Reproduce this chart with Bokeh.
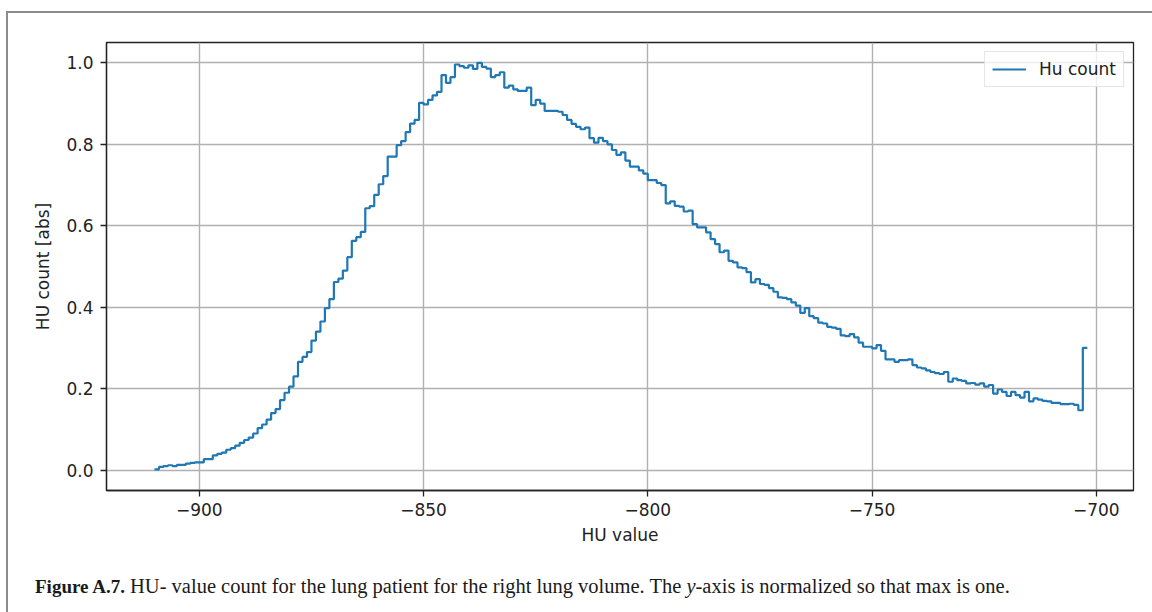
from bokeh.plotting import figure
from bokeh.models import Range1d, FixedTicker, Legend, LegendItem, Div
from bokeh.layouts import column
from bokeh.embed import file_html
from bokeh.resources import INLINE

# ---- data ----
hu_bin_start = -910      # left edge of first histogram bin (HU)
hu_bin_width = 1         # bin width (HU)
hu_counts = [
    0.002, 0.008, 0.010, 0.012, 0.010, 0.013, 0.013, 0.016, 0.018, 0.019,   # -910..-901
    0.019, 0.027, 0.027, 0.036, 0.040, 0.043, 0.050, 0.054, 0.060, 0.067,   # -900..-891
    0.074, 0.080, 0.090, 0.103, 0.112, 0.124, 0.140, 0.150, 0.172, 0.190,   # -890..-881
    0.205, 0.230, 0.266, 0.278, 0.290, 0.318, 0.340, 0.365, 0.398, 0.420,   # -880..-871
    0.462, 0.470, 0.490, 0.523, 0.563, 0.572, 0.585, 0.643, 0.648, 0.676,   # -870..-861
    0.702, 0.722, 0.770, 0.770, 0.798, 0.808, 0.830, 0.851, 0.860, 0.902,   # -860..-851
    0.898, 0.909, 0.920, 0.929, 0.970, 0.951, 0.965, 0.996, 0.992, 0.988,   # -850..-841
    0.994, 0.985, 1.000, 0.990, 0.986, 0.965, 0.970, 0.977, 0.939, 0.944,   # -840..-831
    0.935, 0.931, 0.931, 0.939, 0.896, 0.909, 0.900, 0.882, 0.882, 0.882,   # -830..-821
    0.880, 0.872, 0.860, 0.850, 0.843, 0.837, 0.841, 0.815, 0.804, 0.816,   # -820..-811
    0.808, 0.800, 0.786, 0.774, 0.780, 0.760, 0.745, 0.745, 0.736, 0.728,   # -810..-801
    0.712, 0.712, 0.705, 0.700, 0.655, 0.660, 0.649, 0.647, 0.635, 0.637,   # -800..-791
    0.604, 0.596, 0.596, 0.584, 0.567, 0.555, 0.535, 0.539, 0.514, 0.510,   # -790..-781
    0.498, 0.496, 0.486, 0.461, 0.469, 0.457, 0.455, 0.447, 0.438, 0.424,   # -780..-771
    0.423, 0.420, 0.412, 0.404, 0.386, 0.398, 0.378, 0.373, 0.362, 0.360,   # -770..-761
    0.352, 0.350, 0.347, 0.331, 0.329, 0.334, 0.326, 0.313, 0.303, 0.303,   # -760..-751
    0.299, 0.307, 0.293, 0.272, 0.272, 0.266, 0.270, 0.270, 0.272, 0.258,   # -750..-741
    0.252, 0.250, 0.245, 0.241, 0.238, 0.236, 0.241, 0.217, 0.225, 0.221,   # -740..-731
    0.219, 0.213, 0.214, 0.210, 0.213, 0.205, 0.209, 0.188, 0.198, 0.192,   # -730..-721
    0.182, 0.192, 0.184, 0.178, 0.192, 0.169, 0.176, 0.173, 0.170, 0.169,   # -720..-711
    0.165, 0.165, 0.162, 0.162, 0.163, 0.160, 0.147, 0.300,                 # -710..-703
]
series_label = "Hu count"
x_ticks = [-900, -850, -800, -750, -700]
x_tick_labels = ["\u2212900", "\u2212850", "\u2212800", "\u2212750", "\u2212700"]
y_ticks = [0.0, 0.2, 0.4, 0.6, 0.8, 1.0]
y_tick_labels = ["0.0", "0.2", "0.4", "0.6", "0.8", "1.0"]
x_title = "HU value"
y_title = "HU count [abs]"
caption_bold = "Figure A.7."
caption_part1 = "HU- value count for the lung patient for the right lung volume. The "
caption_italic = "y"
caption_part2 = "-axis is normalized so that max is one."

# step outline built from bin edges
edges = [hu_bin_start + i * hu_bin_width for i in range(len(hu_counts) + 1)]
step_y = hu_counts + [hu_counts[-1]]

# page geometry: frame rule at left/top, figure inside it, caption below
OFF_X, OFF_Y = 8, 13
FIG_W, FIG_H = 1152 - OFF_X, 545
p = figure(width=FIG_W, height=FIG_H, output_backend="svg", toolbar_location=None,
           x_range=Range1d(-920.7, -691.7), y_range=Range1d(-0.05, 1.05),
           min_border_left=106 - OFF_X, min_border_right=FIG_W - (1133 - OFF_X),
           min_border_top=42 - OFF_Y, min_border_bottom=FIG_H - (490 - OFF_Y))
p.background_fill_color = "white"
p.border_fill_color = "white"
p.outline_line_color = "#222222"
p.outline_line_width = 1.3

r = p.step(edges, step_y, mode="after", line_color="#1f77b4", line_width=2.2)

TICK_FONT = "DejaVu Sans"
for ax in (p.xaxis[0], p.yaxis[0]):
    ax.axis_line_color = "#222222"
    ax.axis_line_width = 1.3
    ax.major_tick_line_color = "#222222"
    ax.major_tick_line_width = 1.3
    ax.major_tick_out = 6
    ax.major_tick_in = 0
    ax.minor_tick_line_color = None
    ax.major_label_text_font = TICK_FONT
    ax.major_label_text_font_size = "17px"
    ax.major_label_text_color = "#222222"
    ax.axis_label_text_font = TICK_FONT
    ax.axis_label_text_font_size = "17px"
    ax.axis_label_text_font_style = "normal"
    ax.axis_label_text_color = "#222222"

p.xaxis.ticker = FixedTicker(ticks=x_ticks)
p.xaxis.major_label_overrides = dict(zip(x_ticks, x_tick_labels))
p.yaxis.ticker = FixedTicker(ticks=y_ticks)
p.yaxis.major_label_overrides = dict(zip(y_ticks, y_tick_labels))
p.xaxis.axis_label = x_title
p.yaxis.axis_label = y_title
p.xaxis.major_label_standoff = 6
p.yaxis.major_label_standoff = 7
p.xaxis.axis_label_standoff = 6
p.yaxis.axis_label_standoff = 10

p.xgrid.grid_line_color = "#b0b0b0"
p.ygrid.grid_line_color = "#b0b0b0"
p.xgrid.grid_line_width = 1.4
p.ygrid.grid_line_width = 1.4

legend = Legend(items=[LegendItem(label=series_label, renderers=[r])],
                location="top_right", margin=9, padding=7, glyph_width=34,
                glyph_height=20, label_standoff=13,
                label_text_font=TICK_FONT, label_text_font_size="17px",
                label_text_color="#222222",
                border_line_color="#cccccc", border_line_width=1.3,
                background_fill_alpha=0.8)
p.add_layout(legend)

caption_html = (
    '<div style="font-family:\'Liberation Serif\',serif;font-size:20.5px;'
    'color:#1a1a1a;white-space:nowrap;padding:13px 0 0 22px;line-height:21px;">'
    f'<b style="font-size:19px">{caption_bold}</b> {caption_part1}'
    f'<i>{caption_italic}</i>{caption_part2}</div>'
)
cap = Div(text=caption_html, width=FIG_W, height=612 - OFF_Y - FIG_H,
          styles={"background-color": "white"})

page = column(p, cap, spacing=0, margin=(OFF_Y - 2, 0, 0, OFF_X - 2),
              styles={"border-left": "2px solid #8c8c8c",
                      "border-top": "2px solid #8c8c8c",
                      "background-color": "white"})

open("out.html", "w").write(file_html(page, INLINE))
